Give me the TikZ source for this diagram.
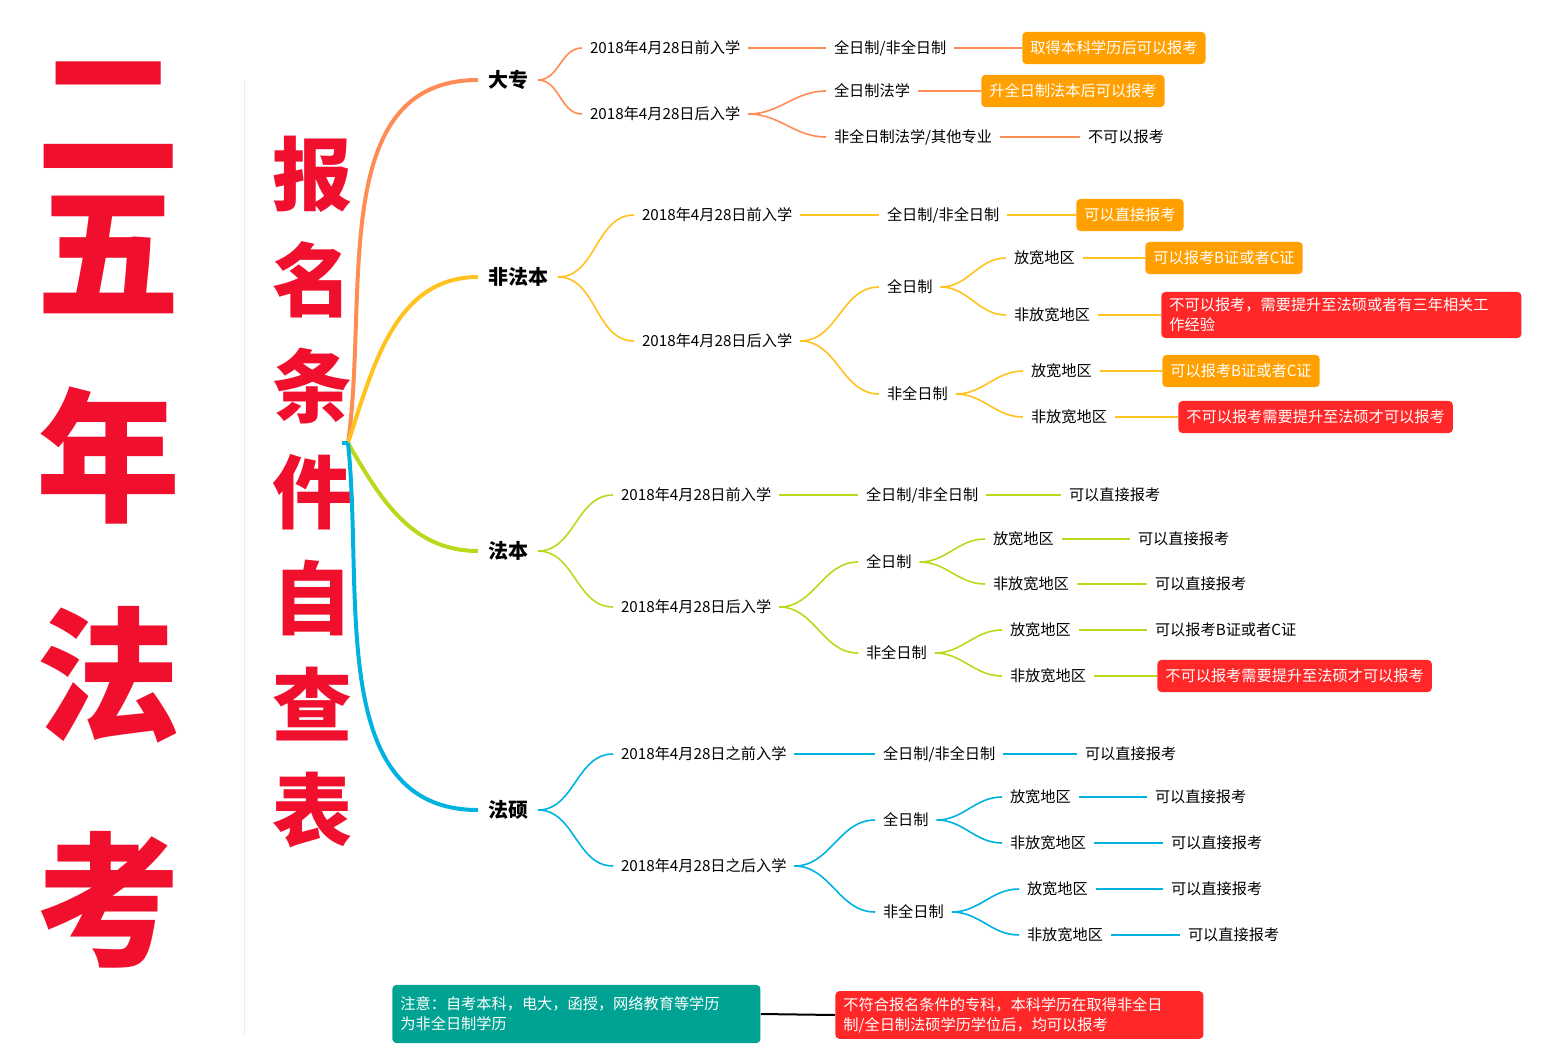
\documentclass[tikz,border=0pt]{standalone}
\usepackage{fontspec}
\setmainfont{Noto Sans CJK SC}
\XeTeXlinebreaklocale "zh"
\XeTeXlinebreakskip=0pt plus 1pt
\definecolor{czhuan}{HTML}{FF8C55}
\definecolor{cfei}{HTML}{FFC21E}
\definecolor{cfa}{HTML}{BCD81C}
\definecolor{cshuo}{HTML}{00B2E0}
\definecolor{boxor}{HTML}{FFA000}
\definecolor{boxred}{HTML}{FF2727}
\definecolor{boxteal}{HTML}{00A393}
\definecolor{bigred}{HTML}{F0102E}
\tikzset{
  txt/.style={anchor=west,inner sep=1pt,outer sep=3pt,font=\fontsize{7.6}{10}\selectfont},
  head/.style={anchor=west,inner sep=1pt,outer sep=4pt,font=\fontsize{10}{12}\selectfont\bfseries},
  obox/.style={anchor=west,fill=boxor,text=white,rounded corners=2pt,inner xsep=4pt,inner ysep=4.5pt,font=\fontsize{7.6}{10}\selectfont},
  rbox/.style={obox,fill=boxred},
  lk/.style={line width=0.8pt},
  big/.style={text=bigred,font=\fontsize{72}{72}\selectfont\bfseries},
  mid/.style={text=bigred,font=\fontsize{40}{40}\selectfont\bfseries},
}
\begin{document}
\begin{tikzpicture}[x=0.5pt,y=-0.5pt]
\useasboundingbox (0,0) rectangle (1559,1050);

% title columns
\foreach \c/\y in {二/115,五/255,年/455,法/675,考/900}
  \node[big] (t\y) at (108,\y) {\c};
\foreach \c [count=\i] in {报,名,条,件,自,查,表}
  \node[mid] (u\i) at (312,{68+106*\i}) {\c};
\draw[gray!15] (244,80) -- (244,1035);

\coordinate (root) at (348,443);

% dazhuan
\node[head] (dz) at (478,80) {大专};
\node[txt] (dz1) at (582,48) {2018年4月28日前入学};
\node[txt] (dz2) at (582,114) {2018年4月28日后入学};
\node[txt] (dz1a) at (826,48) {全日制/非全日制};
\node[obox] (dz1b) at (1022,48) {取得本科学历后可以报考};
\node[txt] (dz2a) at (826,91) {全日制法学};
\node[obox] (dz2c) at (981,91) {升全日制法本后可以报考};
\node[txt] (dz2b) at (826,137) {非全日制法学/其他专业};
\node[txt] (dz2d) at (1080,137) {不可以报考};

% feifaben
\node[head] (ff) at (478,277) {非法本};
\node[txt] (ff1) at (634,215) {2018年4月28日前入学};
\node[txt] (ff2) at (634,341) {2018年4月28日后入学};
\node[txt] (ff1a) at (879,215) {全日制/非全日制};
\node[obox] (ff1b) at (1076,215) {可以直接报考};
\node[txt] (ff2a) at (879,287) {全日制};
\node[txt] (ff2b) at (879,394) {非全日制};
\node[txt] (ffa1) at (1006,258) {放宽地区};
\node[obox] (ffa1r) at (1145,258) {可以报考B证或者C证};
\node[txt] (ffa2) at (1006,315) {非放宽地区};
\node[rbox,text width=172pt,align=left,inner ysep=3pt] (ffa2r) at (1161,315)
  {不可以报考，需要提升至法硕或者有三年相关工\\作经验};
\node[txt] (ffb1) at (1023,371) {放宽地区};
\node[obox] (ffb1r) at (1162,371) {可以报考B证或者C证};
\node[txt] (ffb2) at (1023,417) {非放宽地区};
\node[rbox] (ffb2r) at (1178,417) {不可以报考需要提升至法硕才可以报考};

% faben
\node[head] (fb) at (478,551) {法本};
\node[txt] (fb1) at (613,495) {2018年4月28日前入学};
\node[txt] (fb2) at (613,607) {2018年4月28日后入学};
\node[txt] (fb1a) at (858,495) {全日制/非全日制};
\node[txt] (fb1b) at (1061,495) {可以直接报考};
\node[txt] (fb2a) at (858,562) {全日制};
\node[txt] (fb2b) at (858,653) {非全日制};
\node[txt] (fba1) at (985,539) {放宽地区};
\node[txt] (fba1r) at (1130,539) {可以直接报考};
\node[txt] (fba2) at (985,584) {非放宽地区};
\node[txt] (fba2r) at (1147,584) {可以直接报考};
\node[txt] (fbb1) at (1002,630) {放宽地区};
\node[txt] (fbb1r) at (1147,630) {可以报考B证或者C证};
\node[txt] (fbb2) at (1002,676) {非放宽地区};
\node[rbox] (fbb2r) at (1157,676) {不可以报考需要提升至法硕才可以报考};

% fashuo
\node[head] (fs) at (478,810) {法硕};
\node[txt] (fs1) at (613,754) {2018年4月28日之前入学};
\node[txt] (fs2) at (613,866) {2018年4月28日之后入学};
\node[txt] (fs1a) at (875,754) {全日制/非全日制};
\node[txt] (fs1b) at (1077,754) {可以直接报考};
\node[txt] (fs2a) at (875,820) {全日制};
\node[txt] (fs2b) at (875,912) {非全日制};
\node[txt] (fsa1) at (1002,797) {放宽地区};
\node[txt] (fsa1r) at (1147,797) {可以直接报考};
\node[txt] (fsa2) at (1002,843) {非放宽地区};
\node[txt] (fsa2r) at (1163,843) {可以直接报考};
\node[txt] (fsb1) at (1019,889) {放宽地区};
\node[txt] (fsb1r) at (1163,889) {可以直接报考};
\node[txt] (fsb2) at (1019,935) {非放宽地区};
\node[txt] (fsb2r) at (1180,935) {可以直接报考};

% main branches
\draw[czhuan,line width=2pt] (root) to[out=82,in=180] (dz.west);
\draw[cfei,line width=2pt] (root) to[out=72,in=180] (ff.west);
\draw[cfa,line width=2pt] (root) to[out=-60,in=180] (fb.west);
\draw[cshuo,line width=2pt] (root) -- ++(-6,0) (root) to[out=-84,in=180] (fs.west);

% sub branches
\foreach \a/\b in {dz/dz1,dz/dz2,dz1/dz1a,dz1a/dz1b,dz2/dz2a,dz2/dz2b,dz2a/dz2c,dz2b/dz2d}
  \draw[lk,czhuan] (\a.east) to[out=0,in=180] (\b.west);
\foreach \a/\b in {ff/ff1,ff/ff2,ff1/ff1a,ff1a/ff1b,ff2/ff2a,ff2/ff2b,ff2a/ffa1,ff2a/ffa2,
    ffa1/ffa1r,ffa2/ffa2r,ff2b/ffb1,ff2b/ffb2,ffb1/ffb1r,ffb2/ffb2r}
  \draw[lk,cfei] (\a.east) to[out=0,in=180] (\b.west);
\foreach \a/\b in {fb/fb1,fb/fb2,fb1/fb1a,fb1a/fb1b,fb2/fb2a,fb2/fb2b,fb2a/fba1,fb2a/fba2,
    fba1/fba1r,fba2/fba2r,fb2b/fbb1,fb2b/fbb2,fbb1/fbb1r,fbb2/fbb2r}
  \draw[lk,cfa] (\a.east) to[out=0,in=180] (\b.west);
\foreach \a/\b in {fs/fs1,fs/fs2,fs1/fs1a,fs1a/fs1b,fs2/fs2a,fs2/fs2b,fs2a/fsa1,fs2a/fsa2,
    fsa1/fsa1r,fsa2/fsa2r,fs2b/fsb1,fs2b/fsb2,fsb1/fsb1r,fsb2/fsb2r}
  \draw[lk,cshuo] (\a.east) to[out=0,in=180] (\b.west);

% notes
\node[obox,fill=boxteal,text width=176pt,align=left,inner ysep=6pt] (note) at (392,1014)
  {注意：自考本科，电大，函授，网络教育等学历\\为非全日制学历};
\node[rbox,text width=176pt,align=left,inner ysep=3pt] (cond) at (835,1015)
  {不符合报名条件的专科，本科学历在取得非全日\\制/全日制法硕学历学位后，均可以报考};
\draw[line width=1pt] (note.east) -- (cond.west);
\end{tikzpicture}
\end{document}
